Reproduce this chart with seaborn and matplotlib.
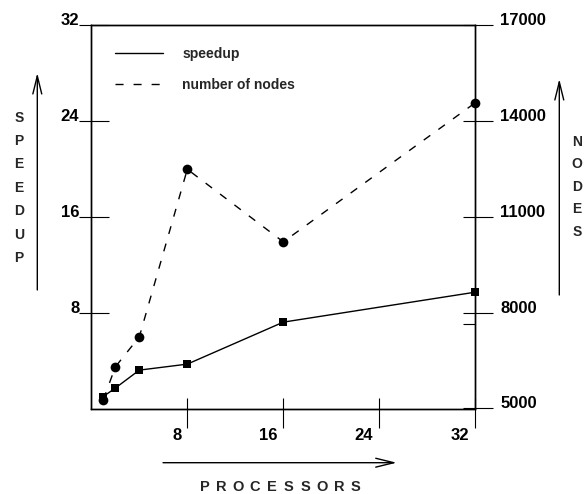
import matplotlib
matplotlib.use("Agg")
import matplotlib.pyplot as plt
import matplotlib.transforms as mtransforms
from matplotlib.ticker import FixedLocator, NullFormatter
from matplotlib.lines import Line2D
import numpy as np
import pandas as pd
import seaborn as sns

# ---- data ----
processors = [1, 2, 4, 8, 16, 32]
speedup = [1.0, 1.7, 3.2, 3.7, 7.2, 9.7]
nodes = [5270, 6300, 7240, 12480, 10210, 14560]
x_ticks = [8, 16, 24, 32]
speedup_ticks = [8, 16, 24, 32]
node_ticks = [5000, 8000, 11000, 14000, 17000]
node_extra_tick = [7630]
legend_labels = ["speedup", "number of nodes"]
left_title = "SPEEDUP"
right_title = "NODES"
bottom_title = "PROCESSORS"

sns.set_theme(style="white")
plt.rcParams["font.family"] = ["Liberation Sans", "DejaVu Sans"]
plt.rcParams["font.weight"] = "bold"
plt.rcParams["lines.scale_dashes"] = False

W, H = 585, 494
PX = 72 / 100.0  # points per pixel at dpi 100
fig = plt.figure(figsize=(W / 100, H / 100), dpi=100)
L, R, T, B = 91.3, 475.3, 24.7, 408.5
ax = fig.add_axes([L / W, (H - B) / H, (R - L) / W, (B - T) / H])
ax2 = ax.twinx()

df = pd.DataFrame({"processors": processors, "speedup": speedup, "nodes": nodes})
dash = (0, (5.8, 7.2))
sns.lineplot(data=df, x="processors", y="speedup", ax=ax, color="black",
             lw=1.0, marker="s", markersize=5.8, markeredgewidth=0,
             legend=False, clip_on=False)
sns.lineplot(data=df, x="processors", y="nodes", ax=ax2, color="black",
             lw=1.0, linestyle=dash, marker="o", markersize=7.0,
             markeredgewidth=0, legend=False, clip_on=False)

ax.set_xlim(0, 32)
ax.set_ylim(0, 32)
ax2.set_ylim(5000, 17000)
for a in (ax, ax2):
    a.set_xlabel("")
    a.set_ylabel("")
    for s in a.spines.values():
        s.set_color("black")
        s.set_linewidth(1.0)

# x ticks
ax.xaxis.remove_overlapping_locs = False
ax.xaxis.set_major_locator(FixedLocator(x_ticks))
ax.xaxis.set_minor_locator(FixedLocator(x_ticks))
ax.xaxis.set_minor_formatter(NullFormatter())
ax.tick_params(axis="x", which="major", bottom=True, direction="out",
               length=19 * PX, width=0.8, color="black", pad=0.5,
               labelsize=12, labelcolor="black")
ax.tick_params(axis="x", which="minor", bottom=True, direction="in",
               length=11 * PX, width=0.8, color="black")

# left y ticks
ax.yaxis.remove_overlapping_locs = False
ax.yaxis.set_major_locator(FixedLocator(speedup_ticks))
ax.yaxis.set_minor_locator(FixedLocator(speedup_ticks))
ax.yaxis.set_minor_formatter(NullFormatter())
ax.tick_params(axis="y", which="major", left=True, right=False, direction="out",
               length=11.7 * PX, width=0.8, color="black", pad=0.2,
               labelsize=12, labelcolor="black")
ax.tick_params(axis="y", which="minor", left=True, right=False, direction="in",
               length=17.6 * PX, width=0.8, color="black")

# right y ticks
ax2.yaxis.remove_overlapping_locs = False
ax2.yaxis.set_major_locator(FixedLocator(node_ticks))
ax2.yaxis.set_minor_locator(FixedLocator(node_ticks + node_extra_tick))
ax2.yaxis.set_minor_formatter(NullFormatter())
ax2.tick_params(axis="y", which="major", right=True, left=False, direction="out",
                length=18 * PX, width=0.8, color="black", pad=5,
                labelsize=12, labelcolor="black")
ax2.tick_params(axis="y", which="minor", right=True, left=False, direction="in",
                length=12 * PX, width=0.8, color="black")

fig.canvas.draw()
off = mtransforms.ScaledTranslation(-6 / 100, 0, fig.dpi_scale_trans)
for lab in ax.get_xticklabels():
    lab.set_ha("right")
    lab.set_transform(lab.get_transform() + off)
    lab.set_fontweight("bold")
for lab in ax.get_yticklabels() + ax2.get_yticklabels():
    lab.set_va("baseline")
    lab.set_fontweight("bold")

# legend
handles = [Line2D([], [], color="black", lw=1.0),
           Line2D([], [], color="black", lw=1.0, linestyle=dash)]
ax.legend(handles=handles, labels=legend_labels, loc="upper left",
          bbox_to_anchor=((115 - L) / (R - L), (B - 47) / (B - T)),
          frameon=False, prop={"weight": "bold", "size": 10},
          handlelength=3.46, handletextpad=1.37, labelspacing=1.23,
          borderpad=0, borderaxespad=0)

# axis titles as stacked letters
def fx(x):
    return x / W

def fy(y):
    return 1 - y / H

for i, ch in enumerate(left_title):
    fig.text(fx(19), fy(117.5 + i * 23.4), ch, ha="center", va="center",
             fontsize=10, fontweight="bold")
for i, ch in enumerate(right_title):
    fig.text(fx(577), fy(141.7 + i * 22.5), ch, ha="center", va="center",
             fontsize=10, fontweight="bold")
for i, ch in enumerate(bottom_title):
    fig.text(fx(204.5 + i * 16.8), fy(486.7), ch, ha="center", va="center",
             fontsize=10.5, fontweight="bold")

# arrows
aprops = dict(arrowstyle="->,head_length=0.65,head_width=0.16", lw=1.0,
              color="black", shrinkA=0, shrinkB=0, mutation_scale=20)
ax.annotate("", xy=(37.3, H - 73), xytext=(37.3, H - 290),
            xycoords="figure pixels", textcoords="figure pixels",
            arrowprops=aprops, annotation_clip=False)
ax.annotate("", xy=(559.3, H - 79), xytext=(559.3, H - 295),
            xycoords="figure pixels", textcoords="figure pixels",
            arrowprops=aprops, annotation_clip=False)
ax.annotate("", xy=(396.7, H - 462.7), xytext=(163, H - 462.7),
            xycoords="figure pixels", textcoords="figure pixels",
            arrowprops=aprops, annotation_clip=False)

fig.savefig("out.png", dpi=100)
